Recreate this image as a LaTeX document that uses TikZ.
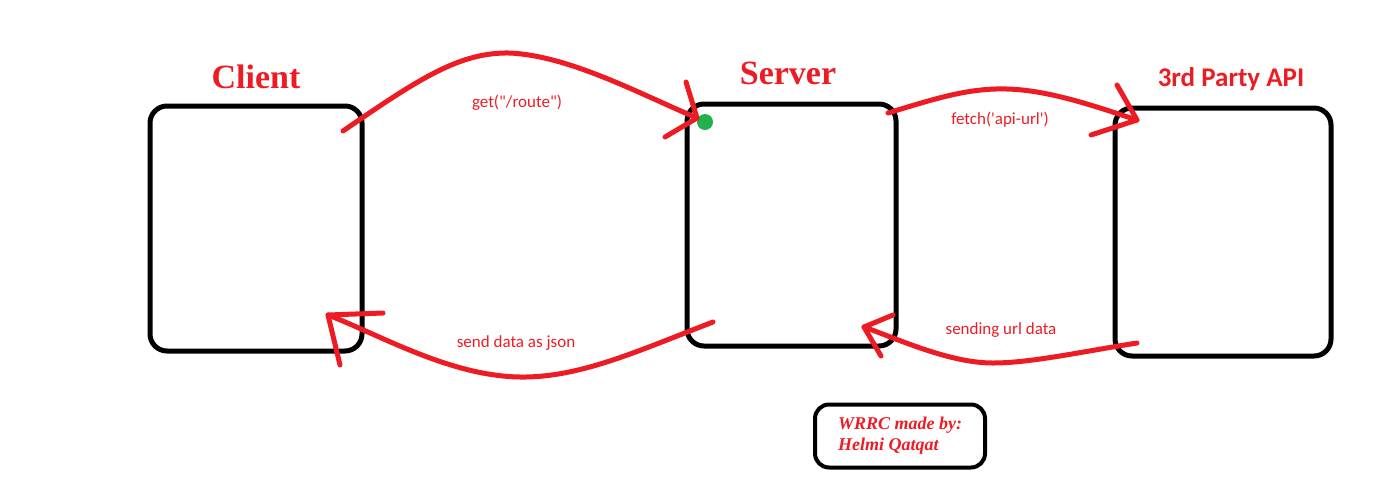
\documentclass[tikz,border=0pt]{standalone}
\usepackage{fontspec}
\setmainfont{Liberation Serif}
\newfontfamily\callfont{Carlito}
\definecolor{paintred}{RGB}{237,28,36}
\definecolor{paintgreen}{RGB}{34,177,76}
\tikzset{
  box/.style={draw, line width=5pt, rounded corners=17pt},
  boxtitle/.style={text=paintred, font=\bfseries\fontsize{34}{40}\selectfont},
  msg/.style={text=paintred, font=\callfont\fontsize{17}{20}\selectfont},
  redline/.style={draw=paintred, line width=5pt, line cap=round, line join=round}
}

\begin{document}
\begin{tikzpicture}[x=1pt, y=-1pt]
\useasboundingbox (0,0) rectangle (1399,499);
% the three parties
\node[box, minimum width=212pt, minimum height=245pt] (client) at (256,228.5) {};
\node[box, minimum width=209pt, minimum height=242pt] (server) at (791.5,225) {};
\node[box, minimum width=216pt, minimum height=248pt] (api) at (1223,232) {};
\node[boxtitle] (clienttitle) at (256,77) {Client};
\node[boxtitle] (servertitle) at (788,73) {Server};
\node[text=paintred, font=\callfont\bfseries\fontsize{27}{32}\selectfont] (apititle) at (1231,79) {3rd Party API};
\fill[paintgreen] (705,122) circle (8pt);
% request: client -> server
\coordinate (getstart) at (343,131);
\coordinate (gettip) at (697,118);
\draw[redline] (getstart) .. controls (420,78) and (460,52) .. (510,53)
  .. controls (570,56) and (640,94) .. (gettip);
\draw[redline] (686,82) -- (gettip) -- (665,137);
\node[msg] (getlabel) at (517,103) {get("/route")};
% request: server -> api
\coordinate (fetchstart) at (888,113);
\coordinate (fetchtip) at (1137,120);
\draw[redline] (fetchstart) .. controls (940,97) and (970,88) .. (1007,89)
  .. controls (1050,90) and (1100,108) .. (fetchtip);
\draw[redline] (1117,85) -- (fetchtip) -- (1091,135);
\node[msg] (fetchlabel) at (1000,120) {fetch('api-url')};
% response: api -> server
\coordinate (urlstart) at (1137,343);
\coordinate (urltip) at (864,327);
\draw[redline] (urlstart) .. controls (1080,352) and (1030,363) .. (993,363)
  .. controls (950,363) and (900,340) .. (urltip);
\draw[redline] (893,315) -- (urltip) -- (881,356);
\node[msg] (urllabel) at (1001,330) {sending url data};
% response: server -> client
\coordinate (jsonstart) at (713,322);
\coordinate (jsontip) at (328,315);
\draw[redline] (jsonstart) .. controls (640,350) and (580,378) .. (520,377)
  .. controls (450,376) and (380,335) .. (jsontip);
\draw[redline] (383,313) -- (jsontip) -- (340,365);
\node[msg] (jsonlabel) at (516,343) {send data as json};
% credit
\node[box, line width=4pt, rounded corners=14pt, minimum width=170pt, minimum height=63pt,
  align=left, text=paintred, font=\bfseries\itshape\fontsize{18}{21}\selectfont] (credit) at (900,436)
  {WRRC made by:\\Helmi Qatqat};
\end{tikzpicture}
\end{document}
